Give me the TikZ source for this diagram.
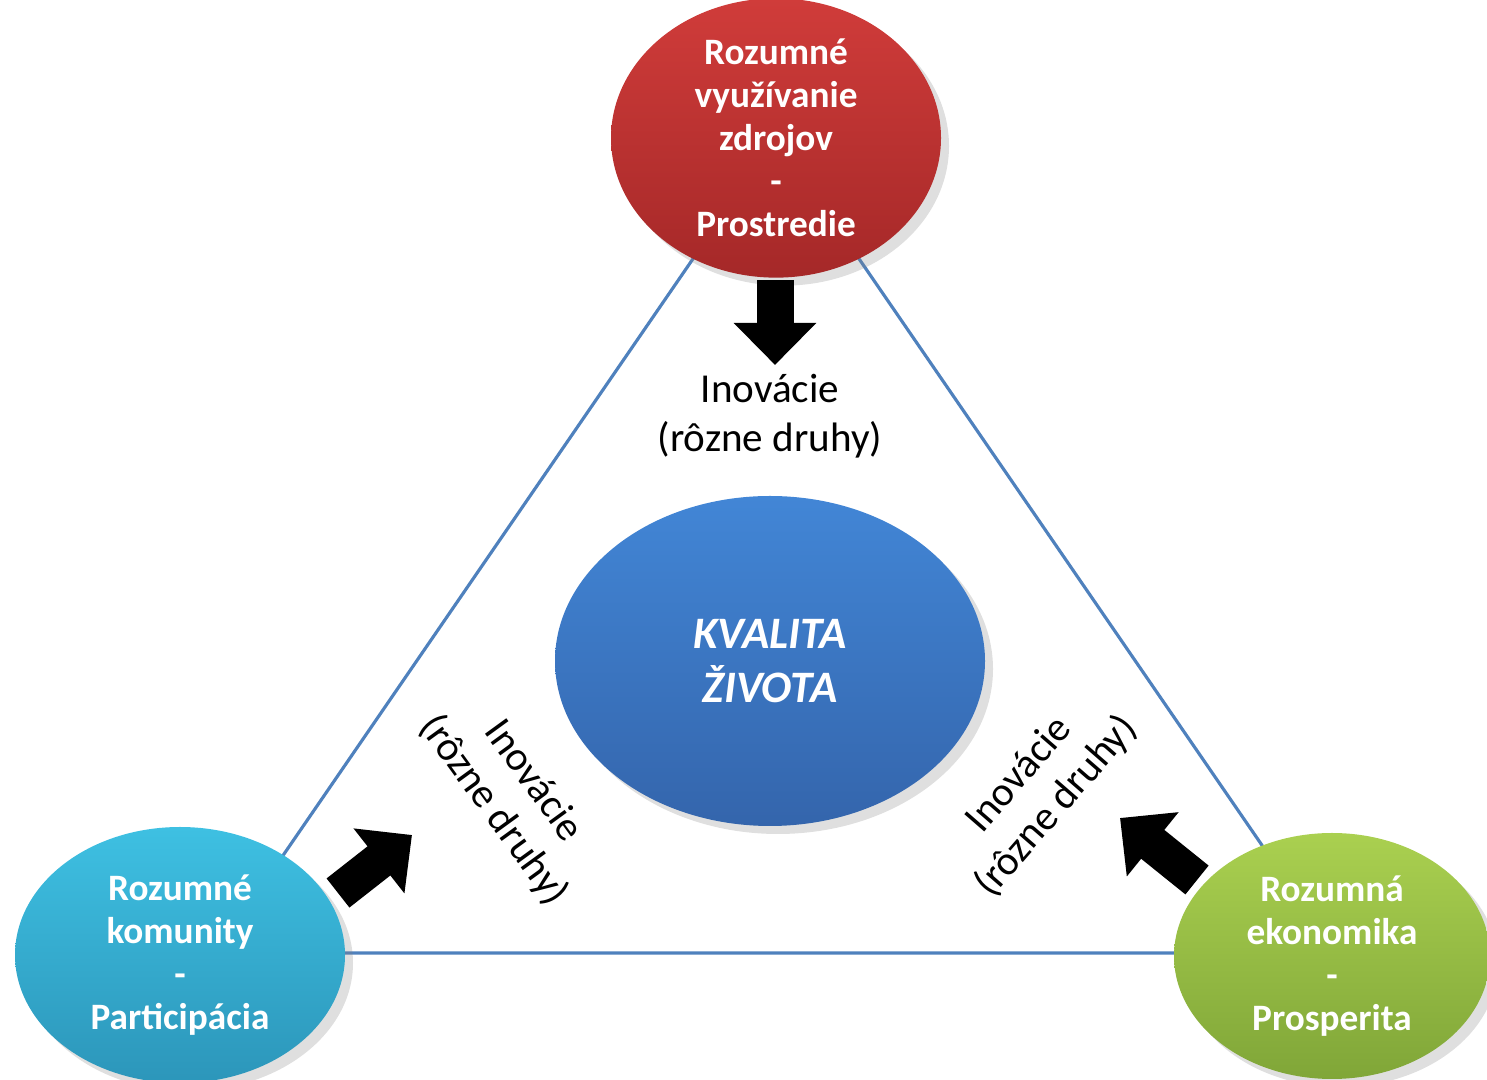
\documentclass[tikz,border=0pt]{standalone}
\usepackage{fontspec}
\setmainfont{Carlito}
\usetikzlibrary{shapes.geometric,shadows,arrows.meta}
\definecolor{hranica}{RGB}{79,129,189}
\definecolor{cervtop}{RGB}{208,60,58}
\definecolor{cervbot}{RGB}{165,40,40}
\definecolor{modrtop}{RGB}{66,134,214}
\definecolor{modrbot}{RGB}{52,101,172}
\definecolor{tyrktop}{RGB}{62,192,226}
\definecolor{tyrkbot}{RGB}{44,150,186}
\definecolor{zeletop}{RGB}{170,208,80}
\definecolor{zelebot}{RGB}{128,166,56}
\tikzset{
	oval/.style={ellipse,inner sep=0pt,align=center,text=white,
		font=\fontsize{10.6}{12.2}\selectfont\bfseries,
		drop shadow={opacity=0.25,shadow xshift=0.08cm,shadow yshift=-0.08cm}},
	inov/.style={align=center,font=\fontsize{11.7}{14}\selectfont},
	sipka/.style={line width=0.37cm,-{Triangle[length=0.42cm,width=0.80cm]}}
}
\begin{document}
\begin{tikzpicture}
			\useasboundingbox (0,0) rectangle (14.87,10.80);
			\coordinate (vrch) at (7.76,9.42);
			\coordinate (vlavo) at (2.16,1.27);
			\coordinate (vpravo) at (13.36,1.27);
			\draw[hranica,line width=0.9pt] (vrch) -- (vlavo) -- (vpravo) -- cycle;
			\node[oval,minimum width=3.30cm,minimum height=2.54cm,top color=cervtop,bottom color=cervbot] (prostredie) at (7.76,9.42) {Rozumné\\využívanie\\zdrojov\\-\\Prostredie};
			\node[oval,minimum width=4.30cm,minimum height=3.30cm,top color=modrtop,bottom color=modrbot,font=\fontsize{12.8}{15.4}\selectfont\bfseries\itshape] (kvalita) at (7.70,4.19) {KVALITA\\ŽIVOTA};
			\node[oval,minimum width=3.30cm,minimum height=2.56cm,top color=tyrktop,bottom color=tyrkbot] (komunity) at (1.80,1.25) {Rozumné\\komunity\\-\\Participácia};
			\node[oval,minimum width=3.16cm,minimum height=2.46cm,top color=zeletop,bottom color=zelebot] (ekonomika) at (13.32,1.24) {Rozumná\\ekonomika\\-\\Prosperita};
			\node[inov] (inovhore) at (7.70,6.64) {Inovácie\\(rôzne druhy)};
			\node[inov,rotate=-54] (inovvlavo) at (5.13,2.84) {Inovácie\\(rôzne druhy)};
			\node[inov,rotate=49] (inovvpravo) at (10.38,2.89) {Inovácie\\(rôzne druhy)};
			\coordinate (hore1) at (7.75,8.00);
			\coordinate (hore2) at (7.75,7.15);
			\coordinate (lavo1) at (3.38,1.87);
			\coordinate (lavo2) at (4.12,2.45);
			\coordinate (pravo1) at (11.97,2.00);
			\coordinate (pravo2) at (11.20,2.62);
			\draw[sipka] (hore1) -- (hore2);
			\draw[sipka] (lavo1) -- (lavo2);
			\draw[sipka] (pravo1) -- (pravo2);
\end{tikzpicture}
\end{document}
